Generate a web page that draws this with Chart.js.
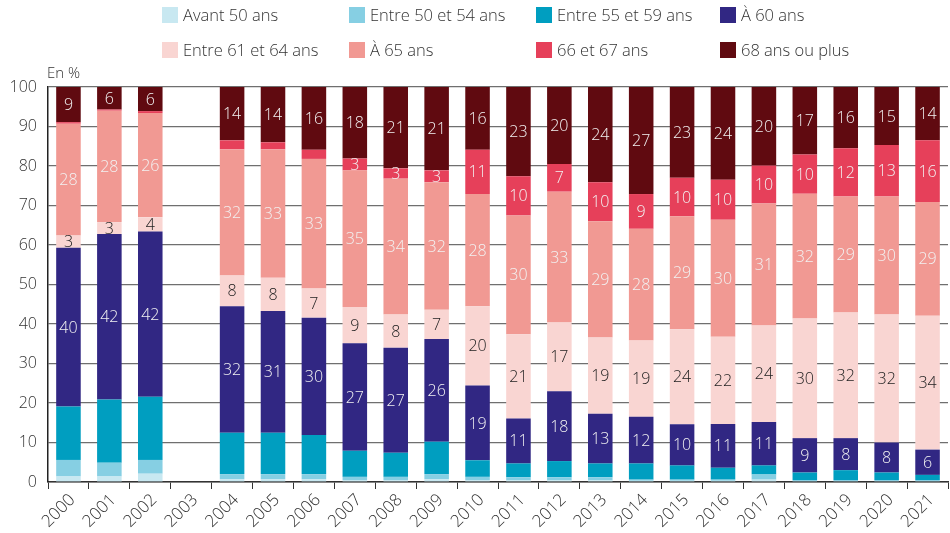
<!DOCTYPE html>
<html>
<head>
<meta charset="utf-8">
<script src="https://cdn.jsdelivr.net/npm/chart.js@4.4.0/dist/chart.umd.min.js"></script>
<style>
  body { margin: 0; background: #fff; font-family: "Open Sans", Lato, sans-serif; }
  #wrap { position: relative; width: 950px; height: 533px; }
  .leg { position: absolute; font-size: 16.5px; font-weight: 300; color: #333; line-height: 16px; white-space: nowrap; }
  .leg span { display: inline-block; width: 16px; height: 16px; vertical-align: top; margin-right: 5px; }
  #unit { position: absolute; left: 47px; top: 62px; font-size: 15px; font-weight: 300; color: #333; }
</style>
</head>
<body>
<div id="wrap">
  <canvas id="chart" width="950" height="533"></canvas>
  <div id="legend"></div>
  <div id="unit">En %</div>
</div>
<script>
// Âge de départ à la retraite, en %
var years = ['2000', '2001', '2002', '2003', '2004', '2005', '2006', '2007', '2008', '2009', '2010',
    '2011', '2012', '2013', '2014', '2015', '2016', '2017', '2018', '2019', '2020', '2021'];

var avant50 = [1.4, 1.4, 2.1, null, 0.7, 0.7, 0.7, 0.5, 0.5, 0.7, 0.5, 0.4, 0.4, 0.4, 0.3, 0.3, 0.3, 0.6, 0.2, 0.2, 0.2, 0.2];
var entre50et54 = [4.2, 3.5, 3.5, null, 1.3, 1.3, 1.3, 0.8, 0.8, 1.3, 0.8, 0.8, 0.8, 0.8, 0.3, 0.3, 0.3, 1.3, 0.3, 0.3, 0.3, 0.3];
var entre55et59 = [13.5, 16.0, 16.0, null, 10.5, 10.5, 9.9, 6.6, 6.1, 8.2, 4.2, 3.5, 4.1, 3.5, 4.1, 3.6, 3.0, 2.3, 1.9, 2.5, 1.9, 1.3];
var a60 = [40.2, 41.9, 41.8, null, 32.0, 30.8, 29.7, 27.2, 26.6, 26.0, 18.9, 11.4, 17.7, 12.6, 11.8, 10.4, 11.1, 11.0, 8.7, 8.1, 7.6, 6.4];
var entre61et64 = [3.1, 3.0, 3.6, null, 7.8, 8.4, 7.4, 9.2, 8.4, 7.4, 20.1, 21.3, 17.4, 19.3, 19.3, 24.1, 22.1, 24.4, 30.3, 31.8, 32.4, 33.9];
var a65 = [28.3, 28.2, 26.4, null, 31.9, 32.5, 32.8, 34.6, 34.4, 32.3, 28.4, 30.1, 33.1, 29.4, 28.3, 28.6, 29.6, 30.9, 31.6, 29.4, 29.9, 28.8];
var a66et67 = [0.4, 0.3, 0.5, null, 2.3, 1.8, 2.3, 3.0, 2.6, 3.0, 11.2, 9.9, 7.0, 9.9, 8.8, 9.7, 10.1, 9.6, 9.9, 12.2, 13.0, 15.6];
var a68plus = [8.9, 5.7, 6.1, null, 13.5, 14.0, 15.9, 18.1, 20.6, 21.1, 15.9, 22.6, 19.5, 24.1, 27.1, 23.0, 23.5, 19.9, 17.1, 15.5, 14.7, 13.5];

var seriesNames = ['Avant 50 ans', 'Entre 50 et 54 ans', 'Entre 55 et 59 ans', 'À 60 ans',
    'Entre 61 et 64 ans', 'À 65 ans', '66 et 67 ans', '68 ans ou plus'];
var seriesData = [avant50, entre50et54, entre55et59, a60, entre61et64, a65, a66et67, a68plus];
var seriesColors = ['#c8e8f1', '#86cfe3', '#009ec0', '#312783', '#f9d5d2', '#f19993', '#e6405a', '#600a10'];
var yTicks = [0, 10, 20, 30, 40, 50, 60, 70, 80, 90, 100];

var font = '"Open Sans", Lato, sans-serif';

// legend in 2 rows x 4 columns
var legendX = [162, 349, 536, 720];
var legendY = [7, 42];
var legend = document.getElementById('legend');
seriesNames.forEach(function (name, i) {
    var item = document.createElement('div');
    item.className = 'leg';
    item.style.left = legendX[i % 4] + 'px';
    item.style.top = legendY[Math.floor(i / 4)] + 'px';
    item.innerHTML = '<span style="background:' + seriesColors[i] + '"></span>' + name;
    legend.appendChild(item);
});

// values written inside the segments
var valueLabels = {
    id: 'valueLabels',
    afterDatasetsDraw: function (chart) {
        var ctx = chart.ctx;
        ctx.save();
        ctx.font = '300 16px ' + font;
        ctx.textAlign = 'center';
        ctx.textBaseline = 'middle';
        chart.data.datasets.forEach(function (ds, i) {
            if (i < 3) return;
            chart.getDatasetMeta(i).data.forEach(function (bar, j) {
                var v = ds.data[j];
                if (v == null || Math.round(v) < 3) return;
                ctx.fillStyle = i === 4 ? '#222' : '#f2f2f2';
                ctx.fillText(Math.round(v), bar.x, (bar.y + bar.base) / 2 + 1);
            });
        });
        ctx.restore();
    }
};

var datasets = seriesData.map(function (d, i) {
    return {
        label: seriesNames[i],
        data: d,
        backgroundColor: seriesColors[i],
        borderWidth: 0,
        barPercentage: 0.6,
        categoryPercentage: 1.0
    };
});

new Chart(document.getElementById('chart'), {
    type: 'bar',
    data: { labels: years, datasets: datasets },
    plugins: [valueLabels],
    options: {
        responsive: false,
        animation: false,
        layout: { padding: { top: 87, right: 2, left: 0, bottom: 0 } },
        plugins: {
            legend: { display: false },
            tooltip: { enabled: false }
        },
        scales: {
            x: {
                stacked: true,
                grid: { offset: true, drawOnChartArea: false, drawTicks: true, tickLength: 7, color: '#333' },
                border: { color: '#333', width: 1.5 },
                ticks: { autoSkip: false, maxRotation: 45, minRotation: 45, labelOffset: 4, color: '#333', font: { family: font, size: 17, weight: 300 }, padding: 1 },
                afterFit: function (s) { s.height = 51; }
            },
            y: {
                stacked: true,
                min: 0,
                max: 100,
                afterBuildTicks: function (s) { s.ticks = yTicks.map(function (v) { return { value: v }; }); },
                grid: { color: '#6f6f6f', lineWidth: 1.2, drawTicks: false },
                border: { color: '#222', width: 1.5 },
                ticks: { color: '#333', font: { family: font, size: 16, weight: 300 }, padding: 11 },
                afterFit: function (s) { s.width = 48; }
            }
        }
    }
});
</script>
</body>
</html>
